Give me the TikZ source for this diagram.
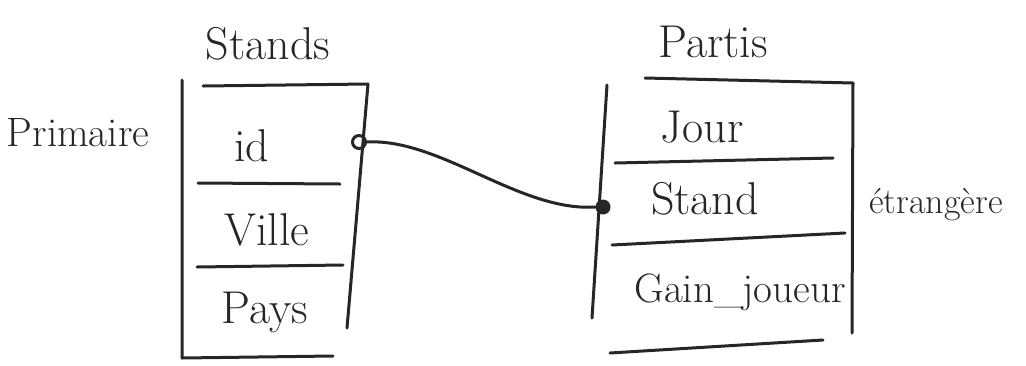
\documentclass[tikz,border=0pt]{standalone}
\begin{document}
\begin{tikzpicture}[x=1pt,y=-1pt,
  pen/.style={line width=3pt,line cap=round,line join=round,black!85},
  lbl/.style={inner sep=0pt,font=\fontsize{46}{50}\selectfont,text=black!85},
  ring/.style={circle,draw=black!85,line width=3pt,minimum size=13pt,inner sep=0pt},
  blob/.style={circle,fill=black!85,minimum size=15pt,inner sep=0pt}]
\useasboundingbox (0,0) rectangle (1026,365);
% left table: Stands
\node[lbl] (stands) at (268,44) {Stands};
\draw[pen] (182,80) -- (182,358) -- (333,356);
\draw[pen] (203,86) -- (368,84) -- (347,328);
\draw[pen] (198,183) -- (340,184);
\draw[pen] (197,267) -- (343,265);
\node[lbl] (id) at (252,146) {id};
\node[lbl] (ville) at (267,230) {Ville};
\node[lbl] (pays) at (265,312) {Pays};
\node[lbl,font=\fontsize{41}{45}\selectfont] (prim) at (78,133) {Primaire};
% right table: Partis
\node[lbl] (partis) at (713,42) {Partis};
\draw[pen] (645,78) -- (853,83) -- (852,333);
\draw[pen] (607,85) -- (592,318);
\draw[pen] (610,353) -- (823,340);
\draw[pen] (615,163) -- (833,158);
\draw[pen] (612,245) -- (845,233);
\node[lbl] (jour) at (702,127) {Jour};
\node[lbl] (stand) at (705,199) {Stand};
\node[lbl,font=\fontsize{41}{45}\selectfont] (gain) at (740,292) {Gain\_joueur};
\node[lbl,font=\fontsize{36}{40}\selectfont] (etr) at (936,205) {étrangère};
% connector
\node[ring] (d1) at (359,142) {};
\node[blob] (d2) at (603,207) {};
\draw[pen] (d1.east) .. controls (440,138) and (520,212) .. (d2.west);
\end{tikzpicture}
\end{document}
